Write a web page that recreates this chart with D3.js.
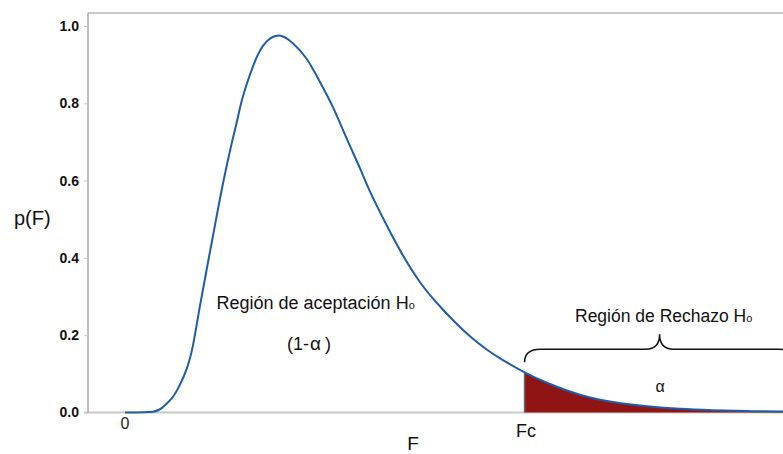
<!DOCTYPE html>
<html>
<head>
<meta charset="utf-8">
<script src="https://d3js.org/d3.v7.min.js"></script>
<style>
body { margin: 0; background: #fff; }
svg { display: block; font-family: "Liberation Sans", Arial, sans-serif; }
.axis--y text { font-size: 14px; font-weight: bold; fill: #111; }
.axis--y line { stroke: #c4c4c4; }
.axis--y path { display: none; }
.frame { stroke: #c8c8c8; stroke-width: 2; }
.label { fill: #111; }
</style>
</head>
<body>
<div class="chart"></div>
<script>
// F density curve
var fValues = [0, 0.151, 0.205, 0.254, 0.297, 0.335, 0.368, 0.405, 0.459, 0.514, 0.568, 0.604,
	0.639, 0.694, 0.748, 0.829, 0.910, 0.982, 1.054, 1.126, 1.198, 1.270, 1.324, 1.416,
	1.503, 1.595, 1.685, 1.775, 1.865, 1.955, 2.045, 2.16, 2.281, 2.459, 2.638, 2.822,
	3.000, 3.178, 3.362, 3.541, 3.649];
var density = [0, 0.002, 0.014, 0.037, 0.072, 0.115, 0.175, 0.275, 0.415, 0.555, 0.678, 0.751,
	0.820, 0.898, 0.950, 0.975, 0.954, 0.915, 0.855, 0.788, 0.709, 0.632, 0.572, 0.483,
	0.406, 0.337, 0.284, 0.238, 0.197, 0.163, 0.135, 0.104, 0.077, 0.046, 0.027, 0.016,
	0.0095, 0.006, 0.0036, 0.0026, 0.002];
var yTicks = [0, 0.2, 0.4, 0.6, 0.8, 1.0];
var fCritical = 2.16;
var braceEnd = 3.62;

var width = 783,
	height = 454,
	svg = d3.select(".chart").append("svg")
		.attr("width", width)
		.attr("height", height);

var x = d3.scaleLinear().domain([-0.2, 3.649]).range([88, 800]),
	y = d3.scaleLinear().domain([0, 1.0335]).range([412.5, 13]);

var points = fValues.map(function(f, i){ return {f: f, p: density[i]}; });
var tail = points.filter(function(d){ return d.f >= fCritical; });

var line = d3.line()
	.x(function(d){ return x(d.f); })
	.y(function(d){ return y(d.p); })
	.curve(d3.curveNatural);

var area = d3.area()
	.x(function(d){ return x(d.f); })
	.y0(y(0))
	.y1(function(d){ return y(d.p); })
	.curve(d3.curveNatural);

// frame
svg.append("line").attr("class", "frame")
	.attr("x1", x.range()[0]).attr("x2", x.range()[1])
	.attr("y1", y.range()[1]).attr("y2", y.range()[1]);
svg.append("line").attr("class", "frame")
	.attr("x1", x.range()[0] - 4).attr("x2", x.range()[1])
	.attr("y1", y(0)).attr("y2", y(0));
svg.append("line")
	.attr("x1", x.range()[0]).attr("x2", x.range()[0])
	.attr("y1", y.range()[1]).attr("y2", y(0))
	.attr("stroke", "#a8a8a8").attr("stroke-width", 1.5);

svg.append("g")
	.attr("class", "axis axis--y")
	.attr("transform", "translate(" + x.range()[0] + ",0)")
	.call(d3.axisLeft(y).tickValues(yTicks).tickFormat(d3.format(".1f")).tickSize(4).tickPadding(5));

// rejection area
svg.append("path")
	.attr("d", area(tail))
	.attr("fill", "#8f1515");

svg.append("line")
	.attr("x1", x(fCritical)).attr("x2", x(fCritical))
	.attr("y1", y(0)).attr("y2", y(tail[0].p))
	.attr("stroke", "#666").attr("stroke-width", 1.5);

svg.append("path")
	.attr("d", line(points))
	.attr("fill", "none")
	.attr("stroke", "#1f5da8")
	.attr("stroke-width", 2);

// brace over rejection region
var bx0 = x(fCritical), bx1 = x(braceEnd), bm = (bx0 + bx1) / 2,
	base = y(0.13), hy = base - 13, tip = base - 28;
svg.append("path")
	.attr("d", "M" + bx0 + "," + base +
		"C" + bx0 + "," + (base - 9) + " " + (bx0 + 5) + "," + hy + " " + (bx0 + 16) + "," + hy +
		"L" + (bm - 14) + "," + hy +
		"C" + (bm - 5) + "," + hy + " " + bm + "," + (hy - 4) + " " + bm + "," + tip +
		"C" + bm + "," + (hy - 4) + " " + (bm + 5) + "," + hy + " " + (bm + 14) + "," + hy +
		"L" + (bx1 - 16) + "," + hy +
		"C" + (bx1 - 5) + "," + hy + " " + bx1 + "," + (base - 9) + " " + bx1 + "," + base)
	.attr("fill", "none")
	.attr("stroke", "#111")
	.attr("stroke-width", 1.5);

// labels
svg.append("text").attr("class", "label")
	.attr("x", x(0)).attr("y", 429)
	.attr("text-anchor", "middle")
	.style("font-size", "16px").style("fill", "#222")
	.text("0");

svg.append("text").attr("class", "label")
	.attr("x", x(fCritical) + 1.5).attr("y", 437)
	.attr("text-anchor", "middle")
	.style("font-size", "18px")
	.text("Fc");

svg.append("text").attr("class", "label")
	.attr("x", 413).attr("y", 449.5)
	.attr("text-anchor", "middle")
	.style("font-size", "19px")
	.text("F");

svg.append("text").attr("class", "label")
	.attr("x", 14).attr("y", 225)
	.style("font-size", "20px")
	.text("p(F)");

var acc = svg.append("text").attr("class", "label")
	.attr("x", 216.5).attr("y", 308.5)
	.style("font-size", "18px");
acc.append("tspan").text("Región de aceptación H");
acc.append("tspan").style("font-size", "11px").text("o");

var one = svg.append("text").attr("class", "label")
	.attr("x", 287).attr("y", 350)
	.style("font-size", "18px");
one.append("tspan").text("(1-");
one.append("tspan").attr("dx", 1).style("font-size", "19px").text("α");
one.append("tspan").attr("dx", 4).text(")");

var rej = svg.append("text").attr("class", "label")
	.attr("x", 575).attr("y", 322)
	.style("font-size", "17.5px");
rej.append("tspan").text("Región de Rechazo H");
rej.append("tspan").style("font-size", "11px").text("o");

svg.append("text").attr("class", "label")
	.attr("x", 660).attr("y", 392)
	.attr("text-anchor", "middle")
	.style("font-size", "16px")
	.text("α");
</script>
</body>
</html>
